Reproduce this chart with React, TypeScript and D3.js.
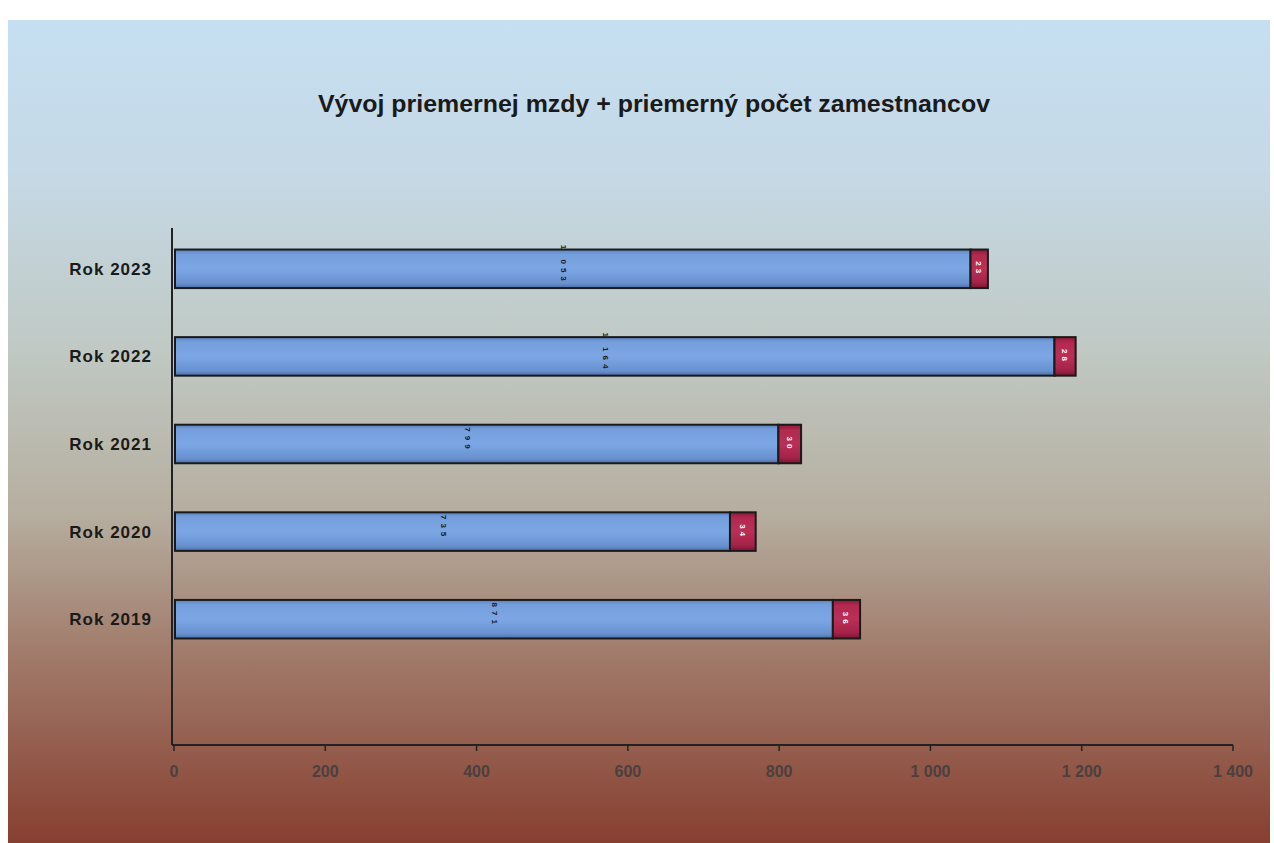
import React from "react";
import * as d3 from "d3";

const categories = ["Rok 2023", "Rok 2022", "Rok 2021", "Rok 2020", "Rok 2019"];
const wages = [1053, 1164, 799, 735, 871];
const employees = [23, 28, 30, 34, 36];
const xTicks = [0, 200, 400, 600, 800, 1000, 1200, 1400];
const title = "Vývoj priemernej mzdy + priemerný počet zamestnancov";

const W = 1274;
const H = 843;

const fmt = (v: number) => {
  const s = String(v);
  return s.length > 3 ? s.slice(0, s.length - 3) + " " + s.slice(-3) : s;
};

export default function App() {
  const x = d3.scaleLinear().domain([0, 1400]).range([174, 1233]);
  const y = d3
    .scaleBand<string>()
    .domain(categories)
    .range([225, 663])
    .paddingInner(0.56)
    .paddingOuter(0.28);
  const bh = y.bandwidth();
  const axisY = 745;

  return (
    <svg
      width={W}
      height={H}
      style={{ position: "absolute", left: 0, top: 0, display: "block" }}
      fontFamily="'Liberation Sans', Arial, sans-serif"
    >
      <defs>
        <linearGradient id="bg" x1="0" y1="0" x2="0" y2="1">
          <stop offset="0" stopColor="#c6dff2" />
          <stop offset="0.18" stopColor="#c5d9e6" />
          <stop offset="0.4" stopColor="#c0c9c4" />
          <stop offset="0.6" stopColor="#b6ae9f" />
          <stop offset="0.78" stopColor="#a07868" />
          <stop offset="1" stopColor="#873f30" />
        </linearGradient>
        <linearGradient id="blue" x1="0" y1="0" x2="0" y2="1">
          <stop offset="0" stopColor="#5a80bd" />
          <stop offset="0.12" stopColor="#759fdc" />
          <stop offset="0.5" stopColor="#7da7e4" />
          <stop offset="0.88" stopColor="#6890cf" />
          <stop offset="1" stopColor="#4a6da6" />
        </linearGradient>
        <linearGradient id="red" x1="0" y1="0" x2="0" y2="1">
          <stop offset="0" stopColor="#8e1838" />
          <stop offset="0.15" stopColor="#b22a50" />
          <stop offset="0.5" stopColor="#ba2f56" />
          <stop offset="0.85" stopColor="#a42349" />
          <stop offset="1" stopColor="#7d1430" />
        </linearGradient>
      </defs>
      <rect x={0} y={0} width={W} height={H} fill="#ffffff" />
      <rect x={8} y={20} width={1262} height={H - 20} fill="url(#bg)" />

      <text
        x={654}
        y={112}
        textAnchor="middle"
        fontSize={23}
        fontWeight="bold"
        fill="#1a1a1a"
        textLength={672}
        lengthAdjust="spacingAndGlyphs"
      >
        {title}
      </text>

      {/* axes */}
      <line x1={172} y1={228} x2={172} y2={axisY} stroke="#222" strokeWidth={2} />
      <line x1={172} y1={axisY} x2={x(1400)} y2={axisY} stroke="#222" strokeWidth={2} />
      {xTicks.map((t) => (
        <g key={t}>
          <line x1={x(t)} y1={axisY} x2={x(t)} y2={axisY + 6} stroke="#222" strokeWidth={1.5} />
          <text
            x={x(t)}
            y={axisY + 32}
            textAnchor="middle"
            fontSize={16}
            fontWeight="bold"
            fill="#4a4040"
          >
            {fmt(t)}
          </text>
        </g>
      ))}

      {categories.map((c, i) => {
        const yy = y(c)!;
        const xw = x(wages[i]);
        const xe = x(wages[i] + employees[i]);
        const cy = yy + bh / 2;
        return (
          <g key={c}>
            <text
              x={152}
              y={cy + 6}
              textAnchor="end"
              fontSize={17}
              fontWeight="bold"
              letterSpacing={1}
              fill="#1a1a1a"
            >
              {c}
            </text>
            <rect x={x(0) + 1} y={yy} width={xw - x(0) - 1} height={bh} fill="url(#blue)" stroke="#1a1a1a" strokeWidth={2} />
            <rect x={xw} y={yy} width={xe - xw} height={bh} fill="url(#red)" stroke="#1a1a1a" strokeWidth={2} />
            <text
              transform={`translate(${(x(0) + xw) / 2 - 8},${cy - 4}) rotate(90)`}
              textAnchor="middle"
              dy={3}
              fontSize={8}
              fontWeight="bold"
              letterSpacing={4}
              fill="#1a1a1a"
            >
              {fmt(wages[i])}
            </text>
            <text
              transform={`translate(${(xw + xe) / 2},${cy}) rotate(90)`}
              textAnchor="middle"
              dy={3}
              fontSize={8}
              fontWeight="bold"
              letterSpacing={3}
              fill="#ffffff"
            >
              {employees[i]}
            </text>
          </g>
        );
      })}
    </svg>
  );
}
